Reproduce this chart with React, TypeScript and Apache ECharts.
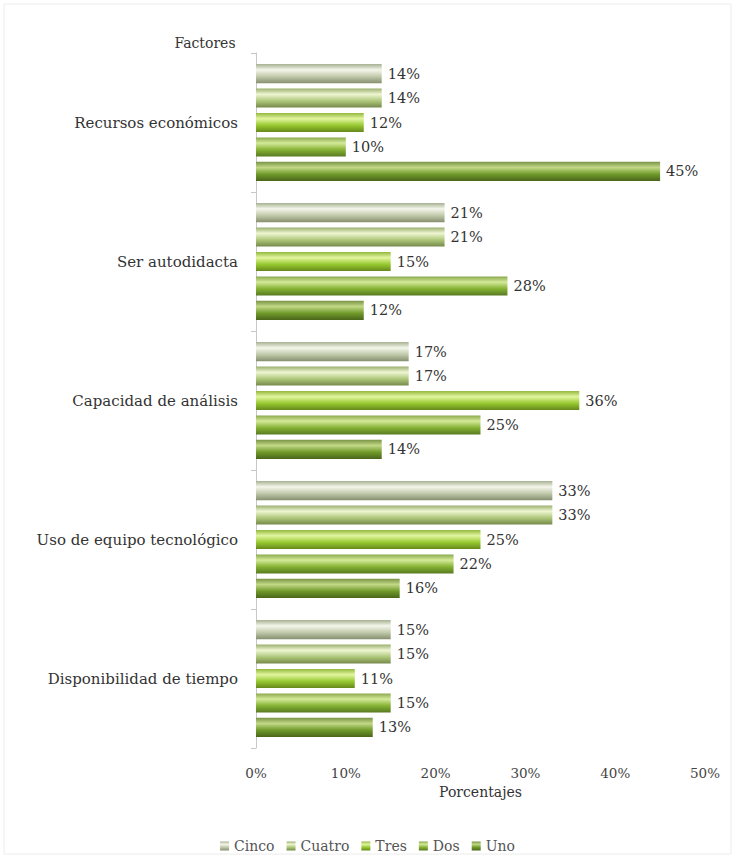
import React, { useEffect, useRef } from "react";
import * as echarts from "echarts";

const categories = [
  "Disponibilidad de tiempo",
  "Uso de equipo tecnológico",
  "Capacidad de análisis",
  "Ser autodidacta",
  "Recursos económicos",
];
const seriesNames = ["Cinco", "Cuatro", "Tres", "Dos", "Uno"];
const uno = [13, 16, 14, 12, 45];
const dos = [15, 22, 25, 28, 10];
const tres = [11, 25, 36, 15, 12];
const cuatro = [15, 33, 17, 21, 14];
const cinco = [15, 33, 17, 21, 14];
const xTicks = [0, 10, 20, 30, 40, 50];
const legendOrder = ["Cinco", "Cuatro", "Tres", "Dos", "Uno"];

const palettes: Record<string, [string, string, string, string]> = {
  // [top edge, highlight, base, bottom edge]
  Uno: ["#7a9446", "#c2d886", "#709a2a", "#4a661b"],
  Dos: ["#8aa84e", "#d4ea98", "#85b234", "#587a22"],
  Tres: ["#93b83c", "#e2f5a0", "#97c930", "#66881c"],
  Cuatro: ["#9cb070", "#eef6d2", "#adc77a", "#75884a"],
  Cinco: ["#a8b294", "#f4f6ea", "#c1c9ab", "#868f70"],
};

function grad(name: string) {
  const [a, b, c, d] = palettes[name];
  return new echarts.graphic.LinearGradient(0, 0, 0, 1, [
    { offset: 0, color: a },
    { offset: 0.3, color: b },
    { offset: 0.65, color: c },
    { offset: 1, color: d },
  ]);
}

const FONT = "DejaVu Serif";

export default function App() {
  const ref = useRef<HTMLDivElement>(null);
  useEffect(() => {
    document.body.style.margin = "0";
    const chart = echarts.init(ref.current!, undefined, { renderer: "svg" });
    const dataMap: Record<string, number[]> = {
      Uno: uno,
      Dos: dos,
      Tres: tres,
      Cuatro: cuatro,
      Cinco: cinco,
    };
    chart.setOption({
      animation: false,
      backgroundColor: "#ffffff",
      textStyle: { fontFamily: FONT },
      grid: { left: 256, right: 30, top: 53, bottom: 110, containLabel: false },
      graphic: [
        {
          type: "rect",
          shape: { x: 4, y: 4, width: 727, height: 850 },
          style: { fill: "none", stroke: "#ececec", lineWidth: 1 },
          silent: true,
        },
        {
          type: "text",
          x: 205,
          y: 43,
          style: {
            text: "Factores",
            fontFamily: FONT,
            fontSize: 14,
            fill: "#333",
            align: "center",
            verticalAlign: "middle",
          },
        },
      ],
      legend: {
        data: legendOrder,
        bottom: 0,
        left: "center",
        itemWidth: 9,
        itemHeight: 9,
        itemGap: 12,
        icon: "rect",
        textStyle: { fontFamily: FONT, fontSize: 14, color: "#555" },
      },
      xAxis: {
        type: "value",
        min: 0,
        max: 50,
        interval: 10,
        name: "Porcentajes",
        nameLocation: "middle",
        nameGap: 36,
        nameTextStyle: { fontFamily: FONT, fontSize: 14, color: "#333" },
        axisLine: { show: false },
        axisTick: { show: false },
        splitLine: { show: false },
        axisLabel: {
          fontFamily: FONT,
          fontSize: 13.5,
          color: "#444",
          margin: 18,
          formatter: (v: number) => (xTicks.includes(v) ? v + "%" : ""),
        },
      },
      yAxis: {
        type: "category",
        data: categories,
        axisLine: { show: true, lineStyle: { color: "#c8c8c8" } },
        axisTick: { show: true, length: 5, lineStyle: { color: "#c8c8c8" } },
        axisLabel: { fontFamily: FONT, fontSize: 15, color: "#333", margin: 18 },
      },
      series: seriesNames.map((n) => ({
        name: n,
        type: "bar",
        data: dataMap[n],
        barCategoryGap: "16%",
        barGap: "28%",
        itemStyle: { color: grad(n) },
        label: {
          show: true,
          position: "right",
          distance: 6,
          formatter: "{c}%",
          fontFamily: FONT,
          fontSize: 14.5,
          color: "#333",
        },
      })),
    });
    return () => chart.dispose();
  }, []);
  return <div ref={ref} style={{ width: 735, height: 858 }} />;
}
